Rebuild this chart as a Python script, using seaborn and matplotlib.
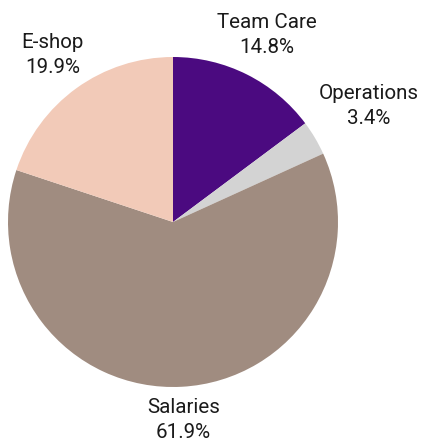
import numpy as np
import matplotlib
matplotlib.use("Agg")
import matplotlib.pyplot as plt
import seaborn as sns

# Datos del gráfico
categorias = ["Team Care", "Operations", "Salaries", "E-shop"]
porcentajes = [14.8, 3.4, 61.9, 19.9]
colores = ["#4b0a80", "#d3d3d3", "#a08c80", "#f2cab8"]
dist_etiquetas = [1.27, 1.38, 1.20, 1.25]

sns.set_theme(style="white")
plt.rcParams["font.family"] = ["Roboto", "DejaVu Sans"]

fig = plt.figure(figsize=(4.25, 4.41), dpi=100)
ax = fig.add_axes([0, 0, 1, 1])

wedges, _ = ax.pie(porcentajes, colors=sns.color_palette(colores), startangle=90,
                   counterclock=False, wedgeprops=dict(linewidth=0))

# Etiquetas afuera del pastel, centradas en el ángulo medio de cada porción
for w, nombre, pct, d in zip(wedges, categorias, porcentajes, dist_etiquetas):
    ang = np.deg2rad((w.theta1 + w.theta2) / 2)
    ax.text(d * np.cos(ang), d * np.sin(ang), f"{nombre}\n{pct:.1f}%",
            ha="center", va="center", multialignment="center",
            fontsize=14.8, color="#1a1a1a", linespacing=1.4)

ax.set_xlim(-173 / 165, (425 - 173) / 165)
ax.set_ylim(-(441 - 222) / 165, 222 / 165)
ax.set_aspect("auto")
ax.axis("off")

plt.savefig("out.png", dpi=100)
plt.close()
